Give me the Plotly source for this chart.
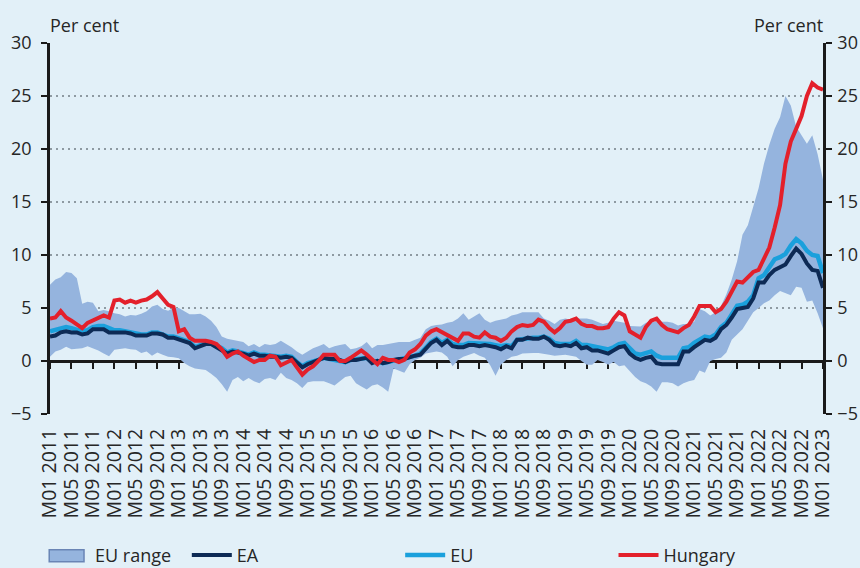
import plotly.graph_objects as go

# monthly labels, M01 2011 .. M01 2023
months = [f"M{m:02d} {y}" for y in range(2011, 2024) for m in range(1, 13)][:145]

# inflation, per cent
eu_min = [0.4, 0.9, 1.05, 1.35, 1.1, 1.15, 1.2, 1.4, 1.2, 1.0, 0.7, 0.45,
          1.05, 1.1, 1.2, 1.1, 1.05, 0.75, 0.9, 0.5, 0.8, 0.6, 0.4, 0.35,
          0.25, -0.2, -0.5, -0.7, -0.75, -0.85, -1.2, -1.6, -2.2, -2.9, -1.8, -1.5,
          -1.9, -1.6, -1.9, -2.1, -1.7, -1.6, -1.8, -1.1, -1.6, -1.8, -2.1, -2.55,
          -2.0, -1.9, -1.9, -1.9, -2.1, -2.3, -1.9, -1.5, -1.4, -2.1, -2.4, -2.7,
          -2.3, -2.2, -2.5, -2.9, -0.7, -0.9, -1.1, -0.3, 0.1, 0.3, 0.7, 0.8,
          0.9, 0.8, 0.4, -0.5, 0.1, 0.4, 0.6, 0.75, 0.5, 0.3, -0.4, -1.4,
          -0.35, 0.1, 0.4, 0.5, 0.7, 0.75, 0.75, 0.75, 0.7, 0.6, 0.5, 0.55,
          0.6, 0.5, 0.4, 0.0, -0.35, -0.35, 0.1, -0.1, -0.35, -0.1, -0.5, -0.4,
          -1.0, -1.5, -1.9, -2.1, -2.4, -2.9, -2.0, -2.0, -2.1, -2.4, -2.1, -1.9,
          -1.8, -0.9, -1.1, 0.0, 0.2, 0.3, 0.8, 2.0, 2.5, 3.0, 3.8, 4.6,
          5.0, 5.45, 5.7, 6.2, 6.6, 6.4, 6.2, 7.0, 6.9, 5.6, 5.7, 4.5,
          3.1]

eu_max = [7.2, 7.7, 7.9, 8.4, 8.3, 7.8, 5.4, 5.6, 5.5, 4.7, 4.8, 4.7,
          4.5, 4.4, 4.2, 4.35, 4.3, 4.45, 4.7, 5.15, 5.3, 4.9, 4.75, 5.0,
          5.0, 4.7, 4.4, 4.4, 4.45, 4.2, 3.8, 3.2, 2.3, 2.1, 2.0, 1.9,
          1.8, 1.4, 1.6, 1.3, 1.6, 1.5, 1.6, 1.9, 1.6, 1.3, 0.9, 0.6,
          0.9, 1.2, 1.4, 1.6, 1.2, 1.4, 1.5, 1.6, 1.1, 1.2, 1.4, 1.8,
          1.2, 1.5, 1.5, 1.6, 1.7, 1.8, 1.8, 1.8, 2.0, 2.2, 3.0, 3.3,
          3.4, 3.45, 3.6, 3.7, 4.0, 4.5, 3.9, 4.2, 4.5, 3.9, 3.6, 3.8,
          3.9, 4.0, 4.3, 4.4, 4.6, 4.6, 4.6, 4.6, 4.0, 3.8, 3.5, 3.9,
          4.0, 3.9, 4.0, 4.0, 4.0, 3.9, 3.7, 3.5, 3.6, 3.8, 3.7, 3.6,
          3.3, 3.25, 3.25, 3.6, 3.7, 3.7, 3.7, 3.7, 3.6, 3.35, 3.5, 3.5,
          3.7, 4.9, 4.7, 4.3, 4.6, 5.2, 6.3, 7.7, 9.4, 11.9, 12.8, 14.5,
          16.3, 18.6, 20.4, 21.9, 23.0, 25.0, 24.1, 22.1, 21.3, 20.5, 21.3, 19.5,
          17.1]

ea = [2.3, 2.4, 2.7, 2.8, 2.7, 2.7, 2.5, 2.6, 3.0, 3.0, 3.0, 2.7,
      2.7, 2.7, 2.7, 2.6, 2.4, 2.4, 2.4, 2.6, 2.6, 2.5, 2.2, 2.2,
      2.0, 1.8, 1.7, 1.2, 1.4, 1.6, 1.6, 1.3, 1.1, 0.7, 0.9, 0.8,
      0.7, 0.5, 0.7, 0.5, 0.5, 0.4, 0.4, 0.3, 0.4, 0.3, -0.2, -0.6,
      -0.3, -0.1, 0.2, 0.3, 0.2, 0.2, 0.1, -0.1, 0.1, 0.1, 0.2, 0.3,
      -0.2, 0.0, -0.2, -0.1, 0.1, 0.2, 0.2, 0.4, 0.5, 0.6, 1.1, 1.7,
      2.0, 1.5, 1.9, 1.4, 1.3, 1.3, 1.5, 1.5, 1.4, 1.5, 1.4, 1.3,
      1.1, 1.4, 1.2, 2.0, 2.0, 2.2, 2.1, 2.1, 2.3, 2.0, 1.5, 1.4,
      1.5, 1.4, 1.7, 1.2, 1.3, 1.0, 1.0, 0.8, 0.7, 1.0, 1.3, 1.4,
      0.7, 0.3, 0.1, 0.3, 0.4, -0.2, -0.3, -0.3, -0.3, -0.3, 0.9, 0.9,
      1.3, 1.6, 2.0, 1.9, 2.2, 3.0, 3.4, 4.1, 4.9, 5.0, 5.1, 5.9,
      7.4, 7.4, 8.1, 8.6, 8.9, 9.1, 9.9, 10.6, 10.1, 9.2, 8.6, 8.5,
      6.9]

eu = [2.8, 2.9, 3.1, 3.2, 3.1, 3.0, 2.8, 2.9, 3.2, 3.3, 3.3, 3.1,
      2.9, 2.9, 2.8, 2.7, 2.5, 2.5, 2.5, 2.7, 2.7, 2.5, 2.3, 2.3,
      2.1, 1.9, 1.8, 1.3, 1.5, 1.7, 1.7, 1.5, 1.2, 0.8, 1.0, 0.9,
      0.8, 0.6, 0.8, 0.6, 0.6, 0.5, 0.5, 0.4, 0.5, 0.4, -0.1, -0.5,
      -0.2, -0.1, 0.1, 0.3, 0.2, 0.2, 0.1, -0.1, 0.1, 0.2, 0.3, 0.3,
      -0.1, 0.0, -0.2, -0.1, 0.1, 0.2, 0.3, 0.4, 0.5, 0.7, 1.2, 1.8,
      2.1, 1.7, 2.0, 1.6, 1.5, 1.5, 1.7, 1.7, 1.6, 1.7, 1.6, 1.5,
      1.4, 1.5, 1.4, 2.0, 2.1, 2.2, 2.2, 2.2, 2.3, 2.1, 1.7, 1.6,
      1.6, 1.6, 1.9, 1.5, 1.5, 1.4, 1.4, 1.2, 1.1, 1.3, 1.6, 1.7,
      1.2, 0.7, 0.6, 0.8, 0.9, 0.5, 0.3, 0.3, 0.3, 0.3, 1.2, 1.3,
      1.7, 2.0, 2.3, 2.2, 2.5, 3.2, 3.6, 4.4, 5.2, 5.3, 5.6, 6.2,
      7.8, 8.1, 8.8, 9.6, 9.8, 10.1, 10.9, 11.5, 11.1, 10.4, 10.0, 9.9,
      8.3]

hungary = [4.0, 4.1, 4.7, 4.1, 3.8, 3.4, 3.1, 3.6, 3.8, 4.0, 4.3, 4.1,
           5.7, 5.8, 5.5, 5.7, 5.5, 5.7, 5.8, 6.1, 6.5, 5.9, 5.3, 5.1,
           2.8, 3.0, 2.2, 1.9, 1.9, 1.9, 1.8, 1.6, 1.1, 0.4, 0.7, 0.9,
           0.5, 0.2, -0.1, 0.1, 0.1, 0.5, 0.4, -0.4, -0.2, 0.1, -0.6, -1.3,
           -0.8, -0.5, 0.0, 0.6, 0.6, 0.6, 0.0, 0.0, 0.3, 0.6, 1.0, 0.6,
           0.2, -0.3, 0.3, 0.1, 0.1, -0.1, 0.1, 0.8, 1.1, 1.6, 2.4, 2.8,
           3.0, 2.7, 2.4, 2.1, 1.9, 2.6, 2.6, 2.3, 2.2, 2.7, 2.3, 2.2,
           1.9, 2.2, 2.8, 3.2, 3.4, 3.3, 3.4, 3.9, 3.7, 3.1, 2.7, 3.1,
           3.7, 3.8, 4.0, 3.5, 3.3, 3.3, 3.1, 3.1, 3.2, 4.0, 4.6, 4.3,
           2.8, 2.5, 2.2, 3.2, 3.8, 4.0, 3.4, 3.0, 2.8, 2.7, 3.1, 3.4,
           4.2, 5.2, 5.2, 5.2, 4.6, 4.9, 5.6, 6.6, 7.5, 7.4, 7.9, 8.4,
           8.6, 9.6, 10.7, 12.6, 14.7, 18.6, 20.7, 21.9, 23.1, 25.0, 26.2, 25.8,
           25.6]

bg = "#e2f0f8"
band = "#95b4de"
axis_col = "#1a1a1a"
text_col = "#262626"
ticks4 = months[::4]

fig = go.Figure()

# EU range band (base subplot, so the zero axis stays underneath it)
fig.add_trace(go.Scatter(x=months, y=eu_min, mode="lines", line=dict(width=0, color=band),
                         showlegend=False, hoverinfo="skip"))
fig.add_trace(go.Scatter(x=months, y=eu_max, mode="lines", line=dict(width=0, color=band),
                         fill="tonexty", fillcolor=band, name="EU range", showlegend=False))

# lines on the overlay x axis (which carries the month labels)
fig.add_trace(go.Scatter(x=months, y=eu, mode="lines", xaxis="x2", yaxis="y",
                         line=dict(color="#1aa0dc", width=4.5), name="EU", legend="legend3"))
fig.add_trace(go.Scatter(x=months, y=ea, mode="lines", xaxis="x2", yaxis="y",
                         line=dict(color="#0d2a55", width=4), name="EA", legend="legend2"))
fig.add_trace(go.Scatter(x=months, y=hungary, mode="lines", xaxis="x2", yaxis="y2",
                         line=dict(color="#e3202b", width=4), name="Hungary", legend="legend4"))

yax = dict(range=[-5, 30], dtick=5, zeroline=False, showline=True, linecolor=axis_col,
           linewidth=2.5, ticks="outside", ticklen=6, tickwidth=2, tickcolor=axis_col,
           tickfont=dict(size=18, color=text_col), fixedrange=True)

leg_y = -0.381
leg = dict(orientation="h", y=leg_y, yanchor="middle", xanchor="left", itemwidth=40,
           bgcolor="rgba(0,0,0,0)", font=dict(size=18, color=text_col))

fig.update_layout(
    width=860, height=568,
    margin=dict(l=50, r=37, t=43, b=154, autoexpand=False),
    paper_bgcolor=bg, plot_bgcolor=bg,
    font=dict(family="Open Sans", size=18, color=text_col),
    xaxis=dict(type="category", range=[0, 144], anchor="free", position=5 / 35,
               showline=True, linecolor=axis_col, linewidth=2.5, ticks="outside",
               ticklen=6, tickwidth=2, tickcolor=axis_col, tickvals=ticks4,
               showticklabels=False, showgrid=False, zeroline=False, layer="below traces"),
    xaxis2=dict(type="category", range=[0, 144], overlaying="x", anchor="y", side="bottom",
                showline=False, ticks="", tickvals=ticks4, tickangle=-90,
                tickfont=dict(size=19.5, color=text_col), ticklabelstandoff=10,
                showgrid=False, zeroline=False),
    yaxis=dict(**yax, ticklabelstandoff=6, showgrid=True, gridcolor="#8e9aa2",
               gridwidth=1.5, griddash="2px,4px"),
    yaxis2=dict(**yax, ticklabelstandoff=2, overlaying="y", side="right", anchor="x",
                showgrid=False),
    legend2=dict(leg, x=0.177),
    legend3=dict(leg, x=0.453),
    legend4=dict(leg, x=0.729),
    annotations=[
        dict(text="Per cent", xref="paper", yref="paper", x=-0.003, y=1.048,
             xanchor="left", yanchor="middle", showarrow=False, font=dict(size=18)),
        dict(text="Per cent", xref="paper", yref="paper", x=1.003, y=1.048,
             xanchor="right", yanchor="middle", showarrow=False, font=dict(size=18)),
        dict(text="EU range", xref="paper", yref="paper", x=0.055, y=leg_y,
             xanchor="left", yanchor="middle", showarrow=False, font=dict(size=18)),
    ],
    # legend key box for the band
    shapes=[dict(type="rect", xref="paper", yref="paper", x0=-0.001, x1=0.044,
                 y0=leg_y - 0.017, y1=leg_y + 0.015, fillcolor=band,
                 line=dict(color="#6a85b5", width=1.5))],
)

fig.write_html("out.html", config={"displayModeBar": False},
               post_script="document.body.style.margin='0';"
               "document.body.style.background='%s';" % bg)
